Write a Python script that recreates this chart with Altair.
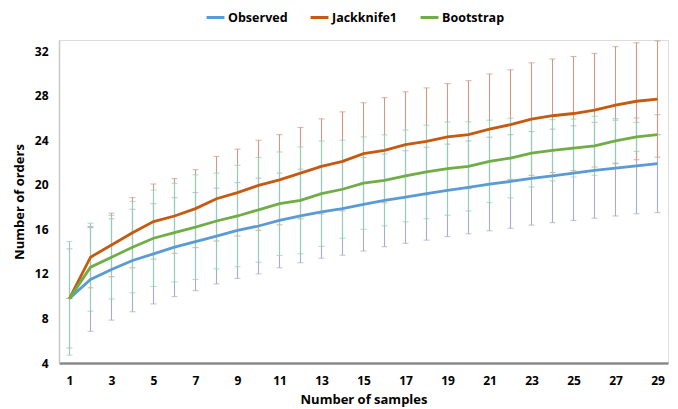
import altair as alt
import pandas as pd

samples = list(range(1, 30))

observed = [9.8, 11.5, 12.4, 13.2, 13.8, 14.4, 14.9, 15.4, 15.9, 16.3,
            16.8, 17.2, 17.56, 17.86, 18.25, 18.6, 18.9, 19.2, 19.5, 19.77,
            20.07, 20.3, 20.58, 20.8, 21.05, 21.3, 21.5, 21.7, 21.9]
jackknife = [9.8, 13.5, 14.6, 15.7, 16.7, 17.2, 17.86, 18.75, 19.3, 19.95,
             20.45, 21.05, 21.65, 22.1, 22.8, 23.1, 23.6, 23.9, 24.3, 24.5,
             25.0, 25.4, 25.9, 26.2, 26.4, 26.7, 27.15, 27.5, 27.7]
bootstrap = [9.8, 12.6, 13.5, 14.4, 15.2, 15.7, 16.2, 16.75, 17.2, 17.75,
             18.3, 18.6, 19.2, 19.6, 20.15, 20.4, 20.8, 21.15, 21.45, 21.65,
             22.1, 22.4, 22.85, 23.1, 23.3, 23.5, 23.95, 24.3, 24.5]

observed_sd = [4.45, 4.66, 4.55, 4.6, 4.5, 4.44, 4.4, 4.3, 4.3, 4.3,
               4.25, 4.2, 4.15, 4.18, 4.2, 4.16, 4.16, 4.17, 4.15, 4.17,
               4.2, 4.2, 4.2, 4.2, 4.25, 4.3, 4.3, 4.3, 4.4]
jackknife_sd = [0.0, 2.75, 2.85, 3.15, 3.37, 3.36, 3.5, 3.8, 3.9, 4.05,
                4.05, 4.1, 4.27, 4.45, 4.57, 4.72, 4.75, 4.8, 4.78, 4.85,
                4.95, 4.92, 5.05, 5.1, 5.12, 5.1, 5.25, 5.25, 5.22]
bootstrap_sd = [5.1, 3.95, 3.75, 4.1, 4.33, 4.43, 4.7, 4.3, 4.55, 4.7,
                4.65, 4.8, 4.73, 4.4, 4.15, 4.08, 4.12, 4.2, 4.18, 4.0,
                3.7, 3.57, 3.05, 2.75, 2.6, 2.65, 2.0, 1.3, 0.0]

series_names = ["Observed", "Jackknife1", "Bootstrap"]
line_colors = ["#5B9BD5", "#C55A11", "#70AD47"]
bar_colors = ["#A8ABD0", "#CF9884", "#8FD0B2"]

rows = []
for name, means, sds in zip(series_names, [observed, jackknife, bootstrap],
                            [observed_sd, jackknife_sd, bootstrap_sd]):
    for s, m, sd in zip(samples, means, sds):
        rows.append({"series": name, "n": s, "mean": m, "lo": m - sd, "hi": m + sd})
df = pd.DataFrame(rows)

FONT = "Open Sans"

x_enc = alt.X(
    "n:Q",
    scale=alt.Scale(domain=[0.5, 29.5], nice=False, zero=False),
    axis=alt.Axis(
        values=list(range(1, 30, 2)), grid=False, ticks=False,
        domainColor="#898989", domainWidth=2.5,
        labelFont=FONT, labelFontWeight="bold", labelFontSize=12,
        labelColor="#000000", labelPadding=12,
        titleFont=FONT, titleFontWeight="bold", titleFontSize=13,
        titleColor="#000000", titlePadding=7,
    ),
    title="Number of samples",
)
y_scale = alt.Scale(domain=[4, 33], nice=False, zero=False)
y_axis = alt.Axis(
    values=list(range(4, 33, 4)), grid=False, ticks=False,
    domainColor="#C8C8C8", domainWidth=1.5,
    labelFont=FONT, labelFontWeight="bold", labelFontSize=12,
    labelColor="#000000", labelPadding=11,
    titleFont=FONT, titleFontWeight="bold", titleFontSize=13,
    titleColor="#000000", titlePadding=8,
)

layers = []
for name, bc in zip(series_names, bar_colors):
    base = alt.Chart(df).transform_filter(alt.datum.series == name)
    layers.append(base.mark_rule(color=bc, strokeWidth=1.1).encode(
        x=x_enc,
        y=alt.Y("lo:Q", scale=y_scale, axis=y_axis, title="Number of orders"),
        y2=alt.Y2("hi:Q"),
    ))
    for col in ["lo", "hi"]:
        layers.append(base.mark_tick(orient="horizontal", color=bc, size=6, thickness=1.1).encode(
            x=x_enc,
            y=alt.Y(f"{col}:Q", scale=y_scale, axis=y_axis, title="Number of orders"),
        ))

lines = alt.Chart(df).mark_line(strokeWidth=2.8).encode(
    x=x_enc,
    y=alt.Y("mean:Q", scale=y_scale, axis=y_axis, title="Number of orders"),
    color=alt.Color(
        "series:N",
        scale=alt.Scale(domain=series_names, range=line_colors),
        sort=series_names,
        legend=alt.Legend(
            title=None, orient="none", direction="horizontal",
            legendX=146, legendY=-33,
            symbolType="stroke", symbolSize=320, symbolStrokeWidth=3,
            labelFont=FONT, labelFontWeight="bold", labelFontSize=12.5,
            labelColor="#000000", labelOffset=2, columnPadding=16,
        ),
    ),
    detail="series:N",
)
layers.append(lines)

chart = alt.layer(*layers).properties(
    width=609, height=323,
    autosize=alt.AutoSizeParams(type="none"),
    padding={"left": 59, "top": 40, "right": 10, "bottom": 46},
).configure_view(stroke=None).configure(background="#ffffff")

chart.save("out.html", embed_options={"renderer": "svg", "actions": False})
